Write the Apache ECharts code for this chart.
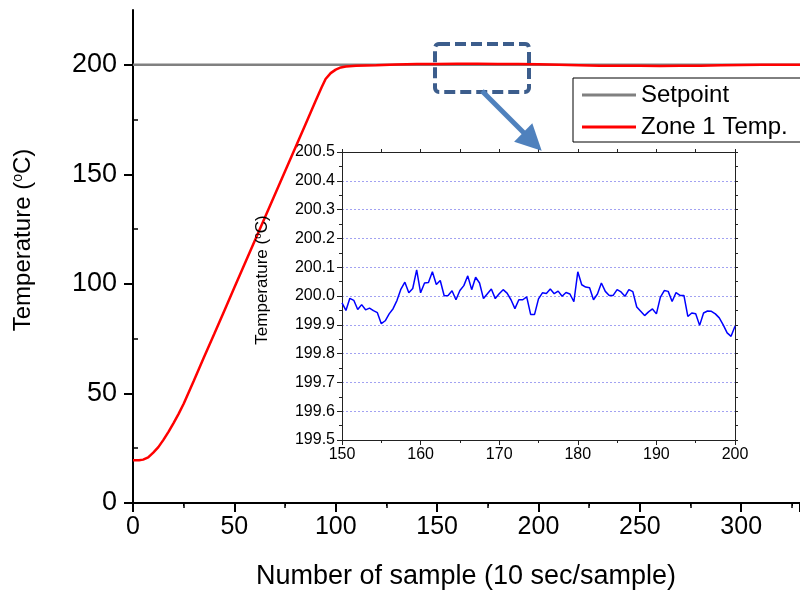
<!DOCTYPE html>
<html>
<head>
<meta charset="utf-8">
<title>Zone 1 temperature</title>
<script src="https://cdn.jsdelivr.net/npm/echarts@6/dist/echarts.min.js"></script>
<style>
  html, body { margin: 0; padding: 0; background: #fff; }
  #chart { width: 800px; height: 596px; }
</style>
</head>
<body>
<div id="chart"></div>
<script>
// main plot data (sample number, temperature in degC)
const sampleNo = [0, 3, 5, 7.5, 10, 12.5, 15, 17.5, 20, 22.5, 25, 30, 35, 40, 45, 50, 55, 60, 65, 70,
  75, 80, 85, 90, 93, 95, 97.5, 100, 102.5, 105, 110, 120, 130, 140, 150, 160, 170, 180, 190, 200,
  210, 220, 230, 240, 250, 260, 270, 280, 290, 300, 310, 320, 330];
const zoneTemp = [19.5, 19.5, 19.8, 20.8, 23, 25.5, 28.8, 32.5, 36.5, 40.7, 45.3, 55.8, 66.5, 77, 87.6, 98.3, 109, 119.6, 130.2, 140.8,
  151.4, 162, 172.6, 183.3, 189.6, 193.5, 196.2, 197.8, 198.8, 199.2, 199.6, 199.8, 200.1, 200.3, 200.4, 200.5, 200.5, 200.4, 200.3, 200.2,
  200.0, 199.8, 199.6, 199.5, 199.5, 199.4, 199.5, 199.6, 199.8, 199.9, 200.0, 200.0, 200.0];
const setpointNo = [0, 330];
const setpointTemp = [200, 200];

// inset (zoom on samples 150-200)
const insetNo = [150, 150.5, 151, 151.5, 152, 152.5, 153, 153.5, 154, 154.5, 155, 155.5, 156, 156.5, 157, 157.5, 158, 158.5, 159, 159.5,
  160, 160.5, 161, 161.5, 162, 162.5, 163, 163.5, 164, 164.5, 165, 165.5, 166, 166.5, 167, 167.5, 168, 168.5, 169, 169.5,
  170, 170.5, 171, 171.5, 172, 172.5, 173, 173.5, 174, 174.5, 175, 175.5, 176, 176.5, 177, 177.5, 178, 178.5, 179, 179.5,
  180, 180.5, 181, 181.5, 182, 182.5, 183, 183.5, 184, 184.5, 185, 185.5, 186, 186.5, 187, 187.5, 188, 188.5, 189, 189.5,
  190, 190.5, 191, 191.5, 192, 192.5, 193, 193.5, 194, 194.5, 195, 195.5, 196, 196.5, 197, 197.5, 198, 198.5, 199, 199.5, 200];
const insetTemp = [199.976, 199.95, 199.992, 199.985, 199.953, 199.97, 199.952, 199.958, 199.949, 199.942, 199.904, 199.914, 199.938, 199.956, 199.985, 200.024, 200.048, 200.011, 200.026, 200.091,
  200.011, 200.045, 200.047, 200.084, 200.04, 200.054, 200.001, 200.002, 200.018, 199.987, 200.019, 200.036, 200.07, 200.022, 200.065, 200.045, 199.991, 200.008, 200.024, 199.991,
  200.008, 200.022, 200.01, 199.987, 199.956, 199.987, 199.987, 199.997, 199.936, 199.936, 199.99, 200.011, 200.009, 200.024, 200.008, 200.017, 199.999, 200.012, 200.007, 199.98,
  200.084, 200.039, 200.031, 200.029, 199.987, 200.007, 200.045, 200.016, 200.002, 200.002, 200.022, 200.014, 199.999, 200.022, 200.015, 199.962, 199.947, 199.932, 199.945, 199.955,
  199.938, 199.995, 200.019, 200.016, 199.981, 200.012, 200.002, 200.002, 199.929, 199.941, 199.938, 199.898, 199.941, 199.948, 199.947, 199.938, 199.924, 199.9, 199.872, 199.86, 199.895];

const mainTicks = [0, 50, 100, 150, 200];
const mainMinorTicks = [25, 75, 125, 175];

const FONT = 'Liberation Sans, Arial, sans-serif';
const zip = (xs, ys) => xs.map((x, i) => [x, ys[i]]);

const chart = echarts.init(document.getElementById('chart'));

const option = {
  animation: false,
  backgroundColor: '#fff',
  textStyle: { fontFamily: FONT, color: '#000' },
  grid: [
    { left: 133, top: 10, right: 0, height: 493 },
    { left: 342, top: 152, width: 393, height: 288, show: true, backgroundColor: '#fff', borderWidth: 0 }
  ],
  legend: {
    data: ['Setpoint', 'Zone 1 Temp.'],
    orient: 'vertical',
    left: 573,
    top: 78,
    padding: [5, 40, 3, 9],
    itemGap: 8,
    itemWidth: 54,
    itemHeight: 3,
    icon: 'rect',
    borderColor: '#000',
    borderWidth: 1,
    backgroundColor: '#fff',
    textStyle: { fontSize: 24, fontFamily: FONT, color: '#000', lineHeight: 24 }
  },
  xAxis: [
    {
      gridIndex: 0, type: 'value', min: 0, max: 329, interval: 50,
      axisLine: { lineStyle: { color: '#000', width: 2 } },
      axisTick: { length: 9, lineStyle: { width: 2 } },
      minorTick: { show: true, splitNumber: 2, length: 5, lineStyle: { color: '#000', width: 1.5 } },
      axisLabel: { fontSize: 25, color: '#000', margin: 12, showMaxLabel: false },
      splitLine: { show: false }
    },
    {
      gridIndex: 0, type: 'value', position: 'top', min: 0, max: 329, interval: 25,
      axisLine: { lineStyle: { color: '#000', width: 2 } },
      axisTick: { inside: true, length: 3, lineStyle: { width: 1 } },
      axisLabel: { show: false },
      splitLine: { show: false }
    },
    {
      gridIndex: 1, type: 'value', min: 150, max: 200, interval: 10,
      axisLine: { lineStyle: { color: '#222', width: 1 } },
      axisTick: { length: 5, lineStyle: { width: 1 } },
      minorTick: { show: true, splitNumber: 2, length: 3, lineStyle: { color: '#222' } },
      axisLabel: { fontSize: 16, color: '#000', margin: 7 },
      splitLine: { show: false }
    },
    {
      gridIndex: 1, type: 'value', position: 'top', min: 150, max: 200, interval: 5,
      axisLine: { lineStyle: { color: '#222', width: 1 } },
      axisTick: { length: 3 },
      axisLabel: { show: false },
      splitLine: { show: false }
    }
  ],
  yAxis: [
    {
      gridIndex: 0, type: 'value', min: 0, max: 225, interval: 50,
      axisLine: { show: true, lineStyle: { color: '#000', width: 2 } },
      axisTick: { show: true, length: 9, customValues: mainTicks, lineStyle: { width: 2 } },
      axisLabel: { fontSize: 27, color: '#000', margin: 16, customValues: mainTicks },
      splitLine: { show: false }
    },
    {
      gridIndex: 0, type: 'value', min: 0, max: 225,
      axisLine: { show: false },
      axisTick: { show: true, length: 5, customValues: mainMinorTicks, lineStyle: { color: '#000', width: 1.5 } },
      axisLabel: { show: false },
      splitLine: { show: false }
    },
    {
      gridIndex: 1, type: 'value', min: 199.5, max: 200.5, interval: 0.1,
      axisLine: { show: true, lineStyle: { color: '#222', width: 1 } },
      axisTick: { show: true, length: 5 },
      minorTick: { show: true, splitNumber: 2, length: 3, lineStyle: { color: '#222' } },
      axisLabel: { fontSize: 16, color: '#000', margin: 7, formatter: v => v.toFixed(1) },
      splitLine: { show: true, lineStyle: { color: '#a2a2f2', width: 1, type: [2, 2] } }
    },
    {
      gridIndex: 1, type: 'value', position: 'right', min: 199.5, max: 200.5, interval: 0.05,
      axisLine: { show: true, lineStyle: { color: '#222', width: 1 } },
      axisTick: { show: true, length: 3 },
      axisLabel: { show: false },
      splitLine: { show: false }
    }
  ],
  series: [
    {
      name: 'Setpoint', type: 'line', xAxisIndex: 0, yAxisIndex: 0,
      data: zip(setpointNo, setpointTemp),
      symbol: 'none', color: '#808080',
      lineStyle: { color: '#808080', width: 2.5 }, z: 2
    },
    {
      name: 'Zone 1 Temp.', type: 'line', xAxisIndex: 0, yAxisIndex: 0,
      data: zip(sampleNo, zoneTemp),
      symbol: 'none', color: '#ff0000',
      lineStyle: { color: '#ff0000', width: 2.5 }, z: 3
    },
    {
      name: 'Zoom', type: 'line', xAxisIndex: 2, yAxisIndex: 2,
      data: zip(insetNo, insetTemp),
      symbol: 'none', color: '#0000ff',
      lineStyle: { color: '#0000ff', width: 1.5 }, z: 4
    }
  ],
  graphic: [
    {
      type: 'text', x: 23, y: 240, rotation: Math.PI / 2,
      style: {
        text: 'Temperature ({sup|o}C)',
        fontSize: 24, fontFamily: FONT, fill: '#000',
        align: 'center', verticalAlign: 'middle',
        rich: { sup: { fontSize: 14, fontFamily: FONT, verticalAlign: 'top', padding: [0, 0, 8, 0] } }
      }
    },
    {
      type: 'text', x: 466, y: 577,
      style: {
        text: 'Number of sample (10 sec/sample)',
        fontSize: 27, fontFamily: FONT, fill: '#000',
        align: 'center', verticalAlign: 'middle'
      }
    },
    {
      type: 'text', x: 262, y: 280, rotation: Math.PI / 2, z: 10,
      style: {
        text: 'Temperature ({sup|o}C)',
        fontSize: 17, fontFamily: FONT, fill: '#000',
        align: 'center', verticalAlign: 'middle',
        rich: { sup: { fontSize: 10, fontFamily: FONT, verticalAlign: 'top', padding: [0, 0, 5, 0] } }
      }
    },
    {
      // dashed zoom window
      type: 'rect', z: 20,
      shape: { x: 435, y: 44, width: 94, height: 48, r: 4 },
      style: { fill: 'none', stroke: '#3c5d8c', lineWidth: 4, lineDash: [11, 5] }
    },
    {
      // arrow shaft
      type: 'line', z: 20,
      shape: { x1: 482, y1: 91, x2: 526, y2: 135 },
      style: { stroke: '#4f81bd', lineWidth: 5 }
    },
    {
      // arrow head
      type: 'polygon', z: 20,
      shape: { points: [[541.7, 150.7], [514.1, 141.8], [532.3, 123.2]] },
      style: { fill: '#4f81bd' }
    }
  ]
};

chart.setOption(option);
window.addEventListener('resize', () => chart.resize());
</script>
</body>
</html>
